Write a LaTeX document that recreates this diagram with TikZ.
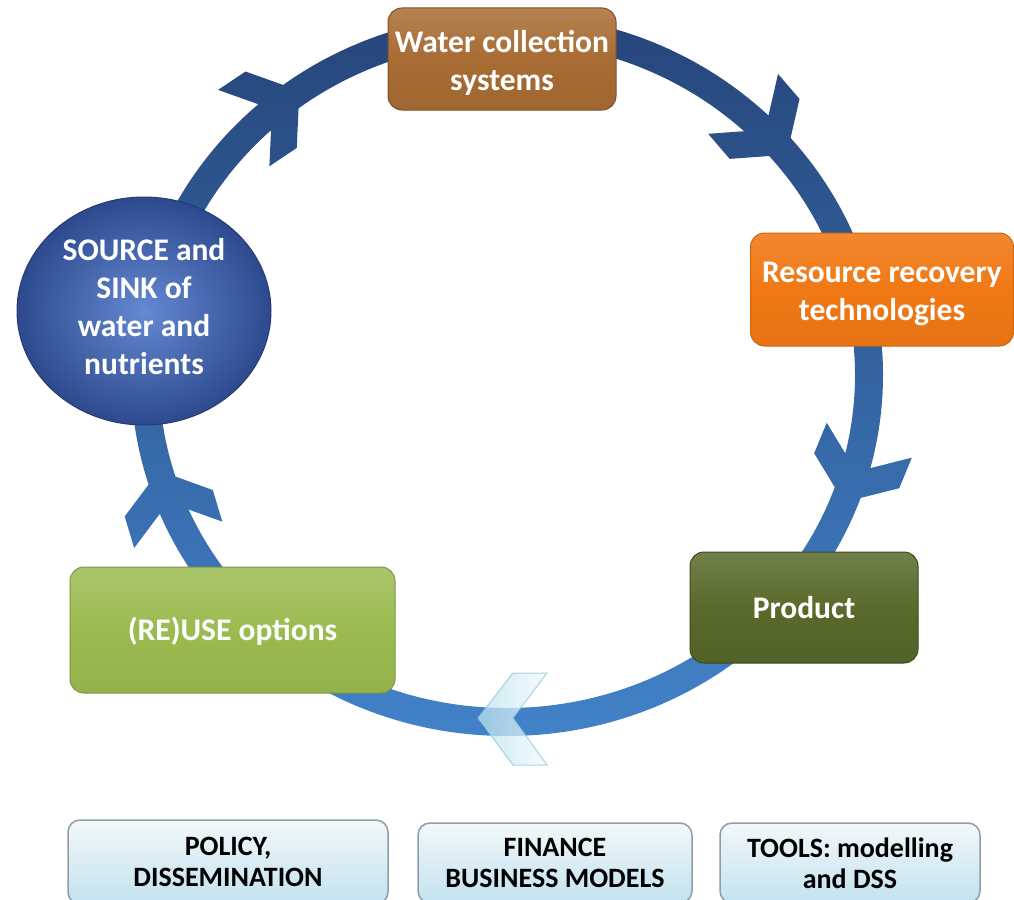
\documentclass[tikz,border=0pt]{standalone}
\usepackage{fontspec}
\setmainfont{Carlito}
\usetikzlibrary{shapes.geometric}
\definecolor{ringtop}{HTML}{26457A}
\definecolor{ringbot}{HTML}{4282C8}
\definecolor{brownc}{HTML}{A86C34}
\definecolor{orangec}{HTML}{F07814}
\definecolor{olivec}{HTML}{596A2B}
\definecolor{greenc}{HTML}{9BBB50}
\definecolor{ballin}{HTML}{6489D2}
\definecolor{ballout}{HTML}{2E4A8E}
\definecolor{paneltop}{HTML}{F3F7F9}
\definecolor{panelbot}{HTML}{C2E2EF}
\definecolor{panelline}{HTML}{8E9EA8}
\definecolor{chevA}{HTML}{B8E0EE}
\definecolor{chevB}{HTML}{F2FAFC}
\definecolor{chevline}{HTML}{8CC6DA}
\tikzset{
  mainbox/.style={rounded corners=14pt, line width=1pt},
  boxtext/.style={align=center, text=white, inner sep=0pt,
    font=\fontsize{31.5}{38}\selectfont\bfseries},
  panel/.style={rounded corners=12pt, align=center, text=black,
    font=\fontsize{28}{31}\selectfont\bfseries, draw=panelline, line width=1.5pt,
    top color=paneltop, bottom color=panelbot},
}
\begin{document}
\begin{tikzpicture}[x=1pt,y=1pt]
\useasboundingbox (0,0) rectangle (1014,-899);
\pgfmathsetmacro\aA{atan2(-347*cos(125),362*sin(125))}
\pgfmathsetmacro\aB{atan2(-347*cos(39.4),362*sin(39.4))}
\pgfmathsetmacro\aC{atan2(-347*cos(-21.5),362*sin(-21.5))}
\pgfmathsetmacro\aD{atan2(-347*cos(196),362*sin(196))}
% ring with chevrons
\shade[top color=ringtop, bottom color=ringbot, nonzero rule]
  (507,-375) ellipse [x radius=376, y radius=361]
  (855,-375) arc[start angle=0, end angle=-360, x radius=348, y radius=333] -- cycle
  {[shift={({507+362*cos(125)},{-375+347*sin(125)})}, rotate=\aA]
    (0,0) -- (-34,46) -- (-67,46) -- (-33,0) -- (-67,-46) -- (-34,-46) -- cycle}
  {[shift={({507+362*cos(39.4)},{-375+347*sin(39.4)})}, rotate=\aB]
    (0,0) -- (-34,46) -- (-67,46) -- (-33,0) -- (-67,-46) -- (-34,-46) -- cycle}
  {[shift={({507+362*cos(-21.5)},{-375+347*sin(-21.5)})}, rotate=\aC]
    (0,0) -- (-34,46) -- (-67,46) -- (-33,0) -- (-67,-46) -- (-34,-46) -- cycle}
  {[shift={({507+362*cos(196)},{-375+347*sin(196)})}, rotate=\aD]
    (0,0) -- (-34,46) -- (-67,46) -- (-33,0) -- (-67,-46) -- (-34,-46) -- cycle};
% boxes
\node[mainbox, minimum width=228pt, minimum height=102pt, draw=brownc!75!black,
  top color=brownc!85!white, bottom color=brownc!95!black, middle color=brownc]
  (water) at (502,-59) {};
\node[boxtext] (watertext) at ([yshift=-4pt]water.center) {Water collection\\systems};
\node[mainbox, minimum width=263pt, minimum height=113pt, draw=orangec!85!black,
  top color=orangec!88!white, bottom color=orangec!96!black, middle color=orangec]
  (resource) at (882,-289.5) {};
\node[boxtext] (resourcetext) at ([yshift=-4pt]resource.center) {Resource recovery\\technologies};
\node[mainbox, minimum width=228pt, minimum height=111pt, draw=olivec!70!black,
  top color=olivec!85!white, bottom color=olivec!92!black, middle color=olivec]
  (product) at (804,-607.5) {};
\node[boxtext] (producttext) at (product.center) {Product};
\node[mainbox, minimum width=325pt, minimum height=126pt, draw=greenc!80!black,
  top color=greenc!85!white, bottom color=greenc!95!black, middle color=greenc]
  (reuse) at (232.5,-630) {};
\node[boxtext] (reusetext) at ([yshift=-1pt]reuse.center) {(RE)USE options};
\node[ellipse, minimum width=254pt, minimum height=228pt, inner sep=0pt,
  draw=ballout!80!black, line width=1pt, inner color=ballin, outer color=ballout]
  (source) at (144,-311) {};
\node[boxtext] (sourcetext) at ([yshift=4pt]source.center) {SOURCE and\\SINK of\\water and\\nutrients};
% bottom chevron
\shade[left color=chevA, right color=chevB, draw=chevline,
  line width=1pt, opacity=0.75]
  (513,-673) -- (547,-673) -- (513,-718) -- (547,-765) -- (513,-765) -- (478,-718) -- cycle;
% bottom panels
\node[panel, minimum width=320pt, minimum height=84pt] (policy) at (228,-862) {POLICY,\\DISSEMINATION};
\node[panel, minimum width=274pt, minimum height=80pt] (finance) at (555,-863) {FINANCE\\BUSINESS MODELS};
\node[panel, minimum width=260pt, minimum height=80pt] (tools) at (850,-863) {TOOLS: modelling\\and DSS};
\end{tikzpicture}
\end{document}
